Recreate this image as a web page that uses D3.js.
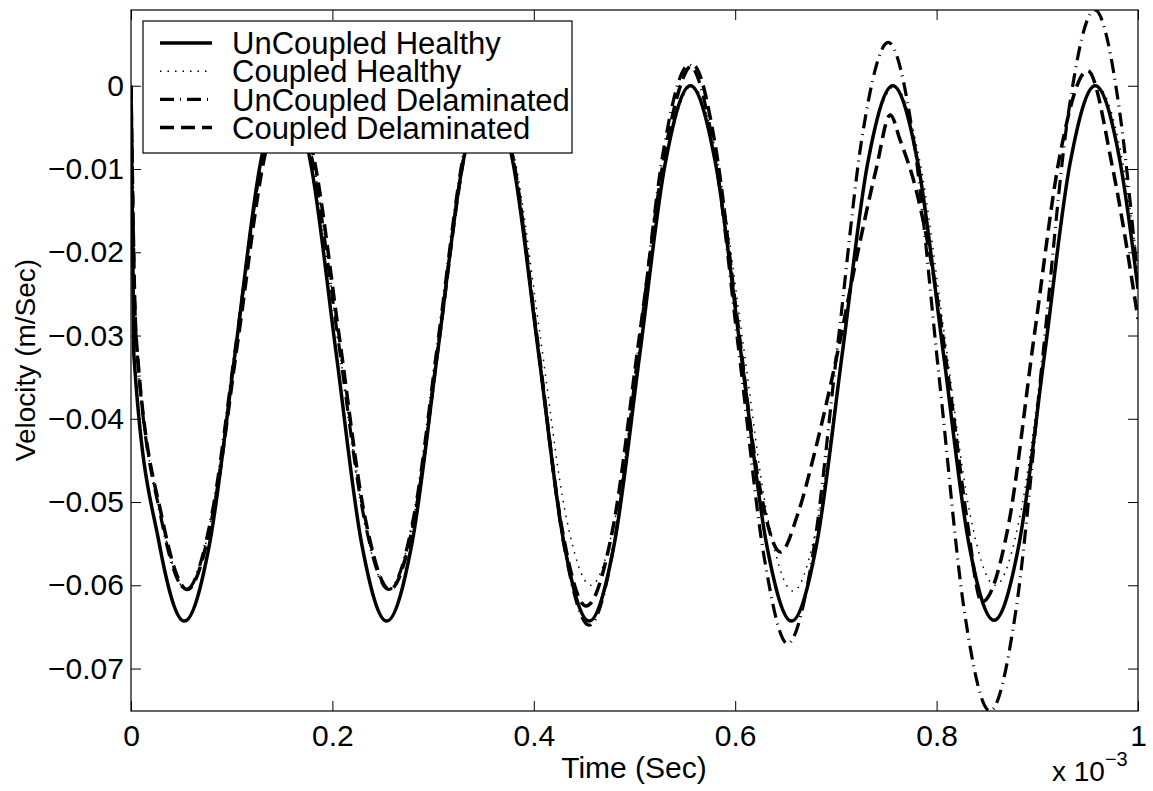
<!DOCTYPE html>
<html>
<head>
<meta charset="utf-8">
<script src="https://d3js.org/d3.v7.min.js"></script>
<style>
  body { margin: 0; background: #fff; }
  text { font-family: "Liberation Sans", Arial, Helvetica, sans-serif; fill: #000; }
</style>
</head>
<body>
<div id="chart"></div>
<script>
////////////////////  data (time in ms, velocity in m/s) //////////////////////////////

var tUH = [0, 0.0028, 0.0279, 0.053, 0.0782, 0.1033, 0.1284, 0.1535, 0.1786, 0.2038, 0.2289, 0.254, 0.2791, 0.3043,
  0.3294, 0.3545, 0.3796, 0.4048, 0.4299, 0.455, 0.4801, 0.5053, 0.5304, 0.5555, 0.5806, 0.6058, 0.6309, 0.656,
  0.6811, 0.7063, 0.7314, 0.7565, 0.7816, 0.8068, 0.8319, 0.857, 0.8821, 0.9073, 0.9324, 0.9575, 0.9826, 1.0];
var vUH = [0, -0.0322, -0.0549, -0.0643, -0.0549, -0.0322, -0.0094, 0, -0.0094, -0.0322, -0.0549, -0.0643, -0.0549, -0.0322,
  -0.0094, 0, -0.0094, -0.0322, -0.0549, -0.0643, -0.0549, -0.0322, -0.0094, 0, -0.0094, -0.0322, -0.0549, -0.0643,
  -0.0549, -0.0322, -0.0094, 0, -0.0094, -0.0322, -0.0549, -0.0642, -0.0549, -0.0322, -0.0094, 0, -0.0094, -0.0244];

var tCH = [0, 0.0048, 0.0299, 0.055, 0.0801, 0.1052, 0.1303, 0.1554, 0.1805, 0.2056, 0.2307, 0.2558, 0.2809, 0.306,
  0.3311, 0.3562, 0.3813, 0.4064, 0.4315, 0.4566, 0.4817, 0.5068, 0.5319, 0.557, 0.5821, 0.6072, 0.6323, 0.6574,
  0.6825, 0.7076, 0.7327, 0.7578, 0.7829, 0.808, 0.8331, 0.8582, 0.8833, 0.9084, 0.9335, 0.9586, 0.9837, 1.0];
var vCH = [0, -0.0303, -0.0517, -0.0605, -0.0517, -0.0303, -0.0089, 0, -0.0089, -0.0303, -0.0517, -0.0605, -0.0517, -0.0303,
  -0.0089, -0.0002, -0.0089, -0.0301, -0.0514, -0.0600, -0.0514, -0.0301, -0.0088, 0, -0.0089, -0.0304, -0.0519, -0.0607,
  -0.0519, -0.0304, -0.0089, -0.0001, -0.0088, -0.0301, -0.0514, -0.0600, -0.0514, -0.0301, -0.0088, 0, -0.0085, -0.0219];

var tUD = [0, 0.005, 0.030, 0.055, 0.080, 0.105, 0.130, 0.155, 0.180, 0.2055, 0.231, 0.256, 0.281, 0.3055,
  0.330, 0.355, 0.380, 0.405, 0.430, 0.455, 0.4798, 0.5045, 0.5293, 0.554, 0.579, 0.604, 0.629, 0.652,
  0.677, 0.702, 0.727, 0.752, 0.7773, 0.8025, 0.8278, 0.853, 0.879, 0.905, 0.931, 0.957, 0.982, 1.0];
var vUD = [0, -0.030, -0.052, -0.0605, -0.0516, -0.0303, -0.0089, 0.0, -0.0089, -0.0303, -0.0516, -0.0605, -0.0516, -0.030,
  -0.0084, 0.0005, -0.0091, -0.0322, -0.0552, -0.0648, -0.0550, -0.0312, -0.0074, 0.0025, -0.0077, -0.0323, -0.0568, -0.0670,
  -0.0564, -0.0309, -0.0054, 0.0052, -0.0066, -0.0350, -0.0633, -0.0751, -0.0628, -0.0330, -0.0032, 0.0091, -0.0033, -0.0236];

var tCD = [0, 0.005, 0.031, 0.056, 0.081, 0.1065, 0.132, 0.157, 0.182, 0.207, 0.232, 0.257, 0.282, 0.3065,
  0.331, 0.356, 0.380, 0.404, 0.428, 0.452, 0.478, 0.505, 0.531, 0.558, 0.580, 0.602, 0.624, 0.645,
  0.662, 0.679, 0.700, 0.720, 0.740, 0.754, 0.764, 0.779, 0.800, 0.815, 0.830, 0.845, 0.871, 0.897,
  0.923, 0.950, 0.975, 1.0];
var vCD = [0, -0.030, -0.052, -0.0605, -0.0516, -0.0303, -0.0089, 0.0, -0.0089, -0.0303, -0.0516, -0.0605, -0.0516, -0.0300,
  -0.0084, 0.0005, -0.0091, -0.0310, -0.0532, -0.0625, -0.0535, -0.0300, -0.0075, 0.0025, -0.0070, -0.0280, -0.0480, -0.0560,
  -0.0515, -0.0440, -0.0330, -0.0210, -0.0100, -0.0035, -0.0066, -0.0122, -0.0250, -0.0380, -0.0520, -0.0620, -0.0530, -0.0300,
  -0.0080, 0.0018, -0.0100, -0.0280];

var seriesNames = ["UnCoupled Healthy", "Coupled Healthy", "UnCoupled Delaminated", "Coupled Delaminated"];
var xTicks = [0, 0.2, 0.4, 0.6, 0.8, 1];
var yTicks = [0, -0.01, -0.02, -0.03, -0.04, -0.05, -0.06, -0.07];

//////////////////////////////// set up the svg ////////////////////////////////////////

var svgWidth = 1153;
var svgHeight = 791;

var plot = { left: 131, right: 1138, top: 10, bottom: 711 };

var svg = d3.select("#chart").append("svg")
  .attr("width", svgWidth)
  .attr("height", svgHeight);

var xScale = d3.scaleLinear().domain([0, 1]).range([plot.left, plot.right]);
var yScale = d3.scaleLinear().domain([-0.0751, 0.0091]).range([plot.bottom, plot.top]);

// line styles, matlab-ish: solid, dotted, dash-dot, dashed
var styles = [
  { width: 3.5, dash: null },
  { width: 1.5, dash: "1.5,6" },
  { width: 3.2, dash: "14,6,1,6" },
  { width: 3.5, dash: "14,7" }
];

var series = [
  d3.zip(tUH, vUH),
  d3.zip(tCH, vCH),
  d3.zip(tUD, vUD),
  d3.zip(tCD, vCD)
];

svg.append("clipPath").attr("id", "clip")
  .append("rect")
  .attr("x", plot.left).attr("y", plot.top)
  .attr("width", plot.right - plot.left).attr("height", plot.bottom - plot.top);

//////////////////////////////// draw the lines ////////////////////////////////////////

var line = d3.line()
  .x(d => xScale(d[0]))
  .y(d => yScale(d[1]))
  .curve(d3.curveMonotoneX);

svg.append("g").attr("clip-path", "url(#clip)")
  .selectAll("path")
  .data(series)
  .enter()
  .append("path")
  .attr("d", line)
  .attr("fill", "none")
  .attr("stroke", "#000")
  .attr("stroke-width", (d, i) => styles[i].width)
  .attr("stroke-dasharray", (d, i) => styles[i].dash);

//////////////////////////////// axes and box //////////////////////////////////////////////

var fmt = d3.format("~g");

var xAxis = svg.append("g")
  .attr("transform", `translate(0, ${plot.bottom})`)
  .call(d3.axisBottom(xScale).tickValues(xTicks).tickFormat(fmt).tickSizeInner(-10).tickSizeOuter(0).tickPadding(14));

var xAxisTop = svg.append("g")
  .attr("transform", `translate(0, ${plot.top})`)
  .call(d3.axisTop(xScale).tickValues(xTicks).tickFormat("").tickSizeInner(-10).tickSizeOuter(0));

var yAxis = svg.append("g")
  .attr("transform", `translate(${plot.left}, 0)`)
  .call(d3.axisLeft(yScale).tickValues(yTicks).tickFormat(fmt).tickSizeInner(-10).tickSizeOuter(0).tickPadding(7));

var yAxisRight = svg.append("g")
  .attr("transform", `translate(${plot.right}, 0)`)
  .call(d3.axisRight(yScale).tickValues(yTicks).tickFormat("").tickSizeInner(-10).tickSizeOuter(0));

[xAxis, xAxisTop, yAxis, yAxisRight].forEach(function (g) {
  g.select(".domain").remove();
  g.selectAll(".tick line").attr("stroke", "#000");
  g.selectAll("text").attr("font-size", 30).attr("font-family", null).attr("fill", "#000");
});

svg.append("rect")
  .attr("x", plot.left).attr("y", plot.top)
  .attr("width", plot.right - plot.left).attr("height", plot.bottom - plot.top)
  .attr("fill", "none").attr("stroke", "#000").attr("stroke-width", 1.2);

// axis labels
svg.append("text")
  .attr("x", 634).attr("y", 778)
  .attr("text-anchor", "middle")
  .attr("font-size", 30)
  .text("Time (Sec)");

svg.append("text")
  .attr("transform", "translate(35, 360) rotate(-90)")
  .attr("text-anchor", "middle")
  .attr("font-size", 28)
  .text("Velocity (m/Sec)");

var expo = svg.append("text")
  .attr("x", 1052).attr("y", 781)
  .attr("font-size", 28);
expo.append("tspan").text("x 10");
expo.append("tspan").attr("dy", -15).attr("font-size", 20).text("\u22123");

//////////////////////////////// legend ////////////////////////////////////////

var legend = svg.append("g");

legend.append("rect")
  .attr("x", 143).attr("y", 21)
  .attr("width", 429).attr("height", 132)
  .attr("fill", "#fff").attr("stroke", "#000").attr("stroke-width", 1.2);

var rows = legend.selectAll("g.row")
  .data(seriesNames)
  .enter()
  .append("g")
  .attr("class", "row")
  .attr("transform", (d, i) => `translate(0, ${43 + i * 28.2})`);

rows.append("line")
  .attr("x1", 160).attr("x2", 212)
  .attr("stroke", "#000")
  .attr("stroke-width", (d, i) => styles[i].width)
  .attr("stroke-dasharray", (d, i) => styles[i].dash);

rows.append("text")
  .attr("x", 232).attr("dy", "0.36em")
  .attr("font-size", 31)
  .text(d => d);
</script>
</body>
</html>
